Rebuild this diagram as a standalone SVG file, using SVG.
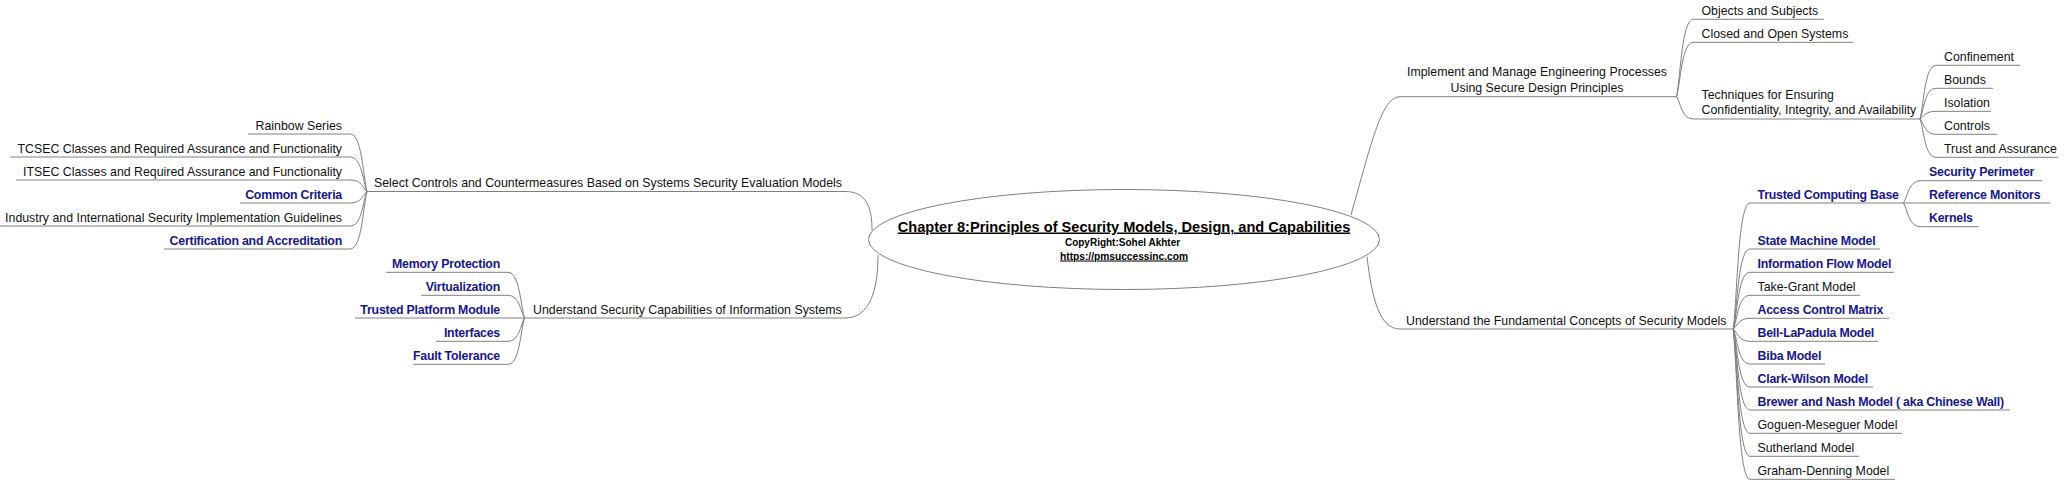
<svg xmlns="http://www.w3.org/2000/svg" width="2064" height="480" viewBox="0 0 2064 480">
<style>
text{font-family:"Liberation Sans",Arial,sans-serif;font-size:12.35px;fill:#111}
.b{font-weight:bold;fill:#17178a;letter-spacing:-0.22px}
.r{text-anchor:end}
.m{text-anchor:middle}
.c path{fill:none;stroke:#808080;stroke-width:1}
.root ellipse{fill:#fff;stroke:#808080;stroke-width:1}
.root text{font-weight:bold;fill:#000;text-anchor:middle}
</style>
<rect width="2064" height="480" fill="#fff"/>
<g id="connectors" class="c">
<path d="M248,134 H350 C361.9,134 362.75,174.25 367,191.5"/>
<path d="M10,157 H350 C361.9,157 362.75,181.15 367,191.5"/>
<path d="M16,180 H350 C361.9,180 362.75,188.05 367,191.5"/>
<path d="M240,203 H350 C361.9,203 362.75,194.95 367,191.5"/>
<path d="M0,226 H350 C361.9,226 362.75,201.85 367,191.5"/>
<path d="M164,249 H350 C361.9,249 362.75,208.75 367,191.5"/>
<path d="M367,191.5 H845 C865,191.5 872,205 872,230"/>
<path d="M386,272.3 H508 C519.5,272.3 520.4,304.3 524.5,318"/>
<path d="M421,295.3 H508 C519.5,295.3 520.4,311.2 524.5,318"/>
<path d="M355,318 H524.5"/>
<path d="M436,341.3 H508 C519.5,341.3 520.4,325 524.5,318"/>
<path d="M413,364.3 H508 C519.5,364.3 520.4,331.9 524.5,318"/>
<path d="M524.5,318 H845 C870,318 878,290 878,255"/>
<path d="M1351,215 C1372,140 1382,96.7 1400,96.7 H1676.6"/>
<path d="M1676.6,96.7 C1680.85,73.5 1681.7,19.3 1693.6,19.3 H1824"/>
<path d="M1676.6,96.7 C1680.85,80.4 1681.7,42.3 1693.6,42.3 H1853"/>
<path d="M1676.6,96.7 C1680.85,103.4 1681.7,119 1693.6,119 H1920"/>
<path d="M1920,119 C1924,102.9 1924.8,65.3 1936,65.3 H2020"/>
<path d="M1920,119 C1924,109.8 1924.8,88.3 1936,88.3 H1993"/>
<path d="M1920,119 C1924,116.7 1924.8,111.3 1936,111.3 H1991"/>
<path d="M1920,119 C1924,123.6 1924.8,134.3 1936,134.3 H1997"/>
<path d="M1920,119 C1924,130.5 1924.8,157.3 1936,157.3 H2058"/>
<path d="M1367,256.7 C1372,300 1380,329 1400,329 H1733.3"/>
<path d="M1733.3,329 C1737.5,291.1 1738.3,203 1750,203 H1903.5"/>
<path d="M1733.3,329 C1737.5,305 1738.3,249 1750,249 H1880"/>
<path d="M1733.3,329 C1737.5,312 1738.3,272.3 1750,272.3 H1894"/>
<path d="M1733.3,329 C1737.5,318.9 1738.3,295.3 1750,295.3 H1860"/>
<path d="M1733.3,329 C1737.5,325.8 1738.3,318.3 1750,318.3 H1889"/>
<path d="M1733.3,329 C1737.5,332.7 1738.3,341.3 1750,341.3 H1878"/>
<path d="M1733.3,329 C1737.5,339.5 1738.3,364 1750,364 H1825"/>
<path d="M1733.3,329 C1737.5,346.4 1738.3,387 1750,387 H1873"/>
<path d="M1733.3,329 C1737.5,353.3 1738.3,410 1750,410 H2010"/>
<path d="M1733.3,329 C1737.5,360.3 1738.3,433.3 1750,433.3 H1902"/>
<path d="M1733.3,329 C1737.5,367.2 1738.3,456.3 1750,456.3 H1859"/>
<path d="M1733.3,329 C1737.5,374.1 1738.3,479.3 1750,479.3 H1895"/>
<path d="M1903.5,203 C1907.75,196.3 1908.6,180.7 1920.5,180.7 H2042"/>
<path d="M1903.5,203 H2050"/>
<path d="M1903.5,203 C1907.75,210.1 1908.6,226.7 1920.5,226.7 H1978.5"/>
</g>
<g id="root" class="root">
<ellipse cx="1124" cy="239.5" rx="255.5" ry="50"/>
<text x="1124" y="231.5" style="font-size:14.6px" text-decoration="underline">Chapter 8:Principles of Security Models, Design, and Capabilities</text>
<text x="1122.5" y="245.5" style="font-size:10px">CopyRight:Sohel Akhter</text>
<text x="1124" y="259.5" style="font-size:10.2px" text-decoration="underline">https://pmsuccessinc.com</text>
</g>
<g id="n-select"><text x="374" y="187">Select Controls and Countermeasures Based on Systems Security Evaluation Models</text></g>
<g id="n-rainbow"><text class="r" x="342" y="129.5">Rainbow Series</text></g>
<g id="n-tcsec"><text class="r" x="342" y="152.5">TCSEC Classes and Required Assurance and Functionality</text></g>
<g id="n-itsec"><text class="r" x="342" y="175.5">ITSEC Classes and Required Assurance and Functionality</text></g>
<g id="n-cc"><text class="r b" x="342" y="198.5">Common Criteria</text></g>
<g id="n-industry"><text class="r" x="342" y="221.5">Industry and International Security Implementation Guidelines</text></g>
<g id="n-cert"><text class="r b" x="342" y="244.5">Certification and Accreditation</text></g>
<g id="n-capab"><text x="533" y="313.5">Understand Security Capabilities of Information Systems</text></g>
<g id="n-memory"><text class="r b" x="500" y="267.8">Memory Protection</text></g>
<g id="n-virt"><text class="r b" x="500" y="290.8">Virtualization</text></g>
<g id="n-tpm"><text class="r b" x="500" y="313.5">Trusted Platform Module</text></g>
<g id="n-interfaces"><text class="r b" x="500" y="336.8">Interfaces</text></g>
<g id="n-fault"><text class="r b" x="500" y="359.8">Fault Tolerance</text></g>
<g id="n-implement"><text class="m" x="1537" y="76">Implement and Manage Engineering Processes</text><text class="m" x="1537" y="91.5">Using Secure Design Principles</text></g>
<g id="n-objects"><text x="1701.5" y="14.8">Objects and Subjects</text></g>
<g id="n-closed"><text x="1701.5" y="37.8">Closed and Open Systems</text></g>
<g id="n-techniques"><text x="1701.5" y="99">Techniques for Ensuring</text><text x="1701.5" y="114.3">Confidentiality, Integrity, and Availability</text></g>
<g id="n-confinement"><text x="1944" y="60.8">Confinement</text></g>
<g id="n-bounds"><text x="1944" y="83.8">Bounds</text></g>
<g id="n-isolation"><text x="1944" y="106.8">Isolation</text></g>
<g id="n-controls"><text x="1944" y="129.8">Controls</text></g>
<g id="n-trust"><text x="1944" y="152.8">Trust and Assurance</text></g>
<g id="n-fundamental"><text x="1406" y="324.5">Understand the Fundamental Concepts of Security Models</text></g>
<g id="n-tcb"><text class="b" x="1757.5" y="198.5">Trusted Computing Base</text></g>
<g id="n-perimeter"><text class="b" x="1929" y="176.2">Security Perimeter</text></g>
<g id="n-refmon"><text class="b" x="1929" y="198.5">Reference Monitors</text></g>
<g id="n-kernels"><text class="b" x="1929" y="222.2">Kernels</text></g>
<g id="n-statemachine"><text class="b" x="1757.5" y="244.5">State Machine Model</text></g>
<g id="n-infoflow"><text class="b" x="1757.5" y="267.8">Information Flow Model</text></g>
<g id="n-takegrant"><text x="1757.5" y="290.8">Take-Grant Model</text></g>
<g id="n-acm"><text class="b" x="1757.5" y="313.8">Access Control Matrix</text></g>
<g id="n-blp"><text class="b" x="1757.5" y="336.8">Bell-LaPadula Model</text></g>
<g id="n-biba"><text class="b" x="1757.5" y="359.5">Biba Model</text></g>
<g id="n-clark"><text class="b" x="1757.5" y="382.5">Clark-Wilson Model</text></g>
<g id="n-brewer"><text class="b" x="1757.5" y="405.5">Brewer and Nash Model ( aka Chinese Wall)</text></g>
<g id="n-goguen"><text x="1757.5" y="428.8">Goguen-Meseguer Model</text></g>
<g id="n-sutherland"><text x="1757.5" y="451.8">Sutherland Model</text></g>
<g id="n-graham"><text x="1757.5" y="474.8">Graham-Denning Model</text></g>
</svg>
